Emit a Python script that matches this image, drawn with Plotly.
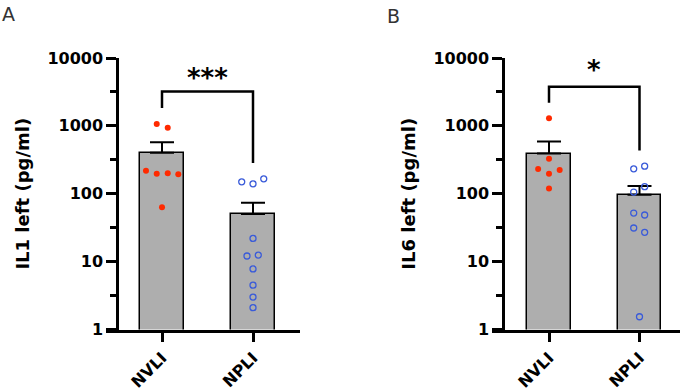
import math
import plotly.graph_objects as go

# ---------------- data ----------------
groups = ["NVLI", "NPLI"]

il1_mean = [402, 50.5]
il1_sem = [171, 23]
il1_nvli = [1067, 940, 218, 197, 200, 193, 63]
il1_nvli_off = [-0.058, 0.063, -0.176, -0.058, 0.063, 0.179, 0.0]
il1_npli = [150, 140, 166, 22, 12.1, 12.5, 7.8, 4.5, 3.0, 2.1]
il1_npli_off = [-0.124, 0.0, 0.118, 0.0, -0.066, 0.058, 0.0, 0.0, 0.0, 0.0]
il1_bracket = [1840, 3200, 3200, 283]
il1_sig = "***"
il1_sig_y = 5000

il6_mean = [391, 96.7]
il6_sem = [197, 33]
il6_nvli = [1297, 327, 231, 223, 197, 120]
il6_nvli_off = [0.0, 0.0, -0.12, 0.118, 0.0, 0.0]
il6_npli = [233, 255, 106, 127, 52, 48.6, 31.3, 27, 1.54]
il6_npli_off = [-0.064, 0.057, -0.064, 0.057, -0.064, 0.057, -0.064, 0.057, 0.0]
il6_bracket = [2200, 3785, 3785, 433]
il6_sig = "*"
il6_sig_y = 6600

y_ticks = [1, 10, 100, 1000, 10000]
y_ticktext = ["1", "10", "100", "1000", "10000"]
y_minor = [10 ** 0.5, 10 ** 1.5, 10 ** 2.5, 10 ** 3.5]

# ---------------- layout helpers ----------------
W, H = 685, 391
RED = "#FF2A00"
BLUE = "#3A5BD9"
GRAY = "#AEAEAE"
FONT = "DejaVu Sans"


def px(v):
    return v / W


def py(v):
    return 1 - v / H


fig = go.Figure()

panels = [
    dict(xa="x", ya="y", mean=il1_mean, sem=il1_sem, a=il1_nvli, ao=il1_nvli_off,
         b=il1_npli, bo=il1_npli_off, br=il1_bracket, sig=il1_sig, sigy=il1_sig_y),
    dict(xa="x2", ya="y2", mean=il6_mean, sem=il6_sem, a=il6_nvli, ao=il6_nvli_off,
         b=il6_npli, bo=il6_npli_off, br=il6_bracket, sig=il6_sig, sigy=il6_sig_y),
]

for p in panels:
    fig.add_trace(go.Bar(
        x=[0, 1], y=p["mean"], width=0.48, xaxis=p["xa"], yaxis=p["ya"],
        marker=dict(color=GRAY, line=dict(color="black", width=1.5)),
        error_y=dict(type="data", array=p["sem"], arrayminus=[0, 0], symmetric=False,
                     color="black", thickness=2, width=12),
        showlegend=False, hoverinfo="skip"))
    fig.add_trace(go.Scatter(
        x=[0 + o for o in p["ao"]], y=p["a"], mode="markers", xaxis=p["xa"], yaxis=p["ya"],
        marker=dict(color=RED, size=6, line=dict(width=0)), showlegend=False))
    fig.add_trace(go.Scatter(
        x=[1 + o for o in p["bo"]], y=p["b"], mode="markers", xaxis=p["xa"], yaxis=p["ya"],
        marker=dict(color=BLUE, size=6, symbol="circle-open", line=dict(width=1.3, color=BLUE)),
        showlegend=False))
    fig.add_trace(go.Scatter(
        x=[0, 0, 1, 1], y=p["br"], mode="lines", xaxis=p["xa"], yaxis=p["ya"],
        line=dict(color="black", width=2.5), showlegend=False, hoverinfo="skip"))
    fig.add_annotation(x=0.5, y=math.log10(p["sigy"]), xref=p["xa"], yref=p["ya"],
                       text="<b>%s</b>" % p["sig"], showarrow=False,
                       font=dict(family=FONT, size=26, color="black"))

ydom = [py(329.5), py(58)]

common_x = dict(tickmode="array", tickvals=[0, 1], ticktext=groups, tickangle=-45,
                showline=True, linecolor="black", linewidth=2.5, ticks="outside",
                ticklen=10, tickwidth=2.5, tickcolor="black", showgrid=False, zeroline=False,
                automargin=False,
                tickfont=dict(family=FONT, size=16, color="black", weight="bold"))
common_y = dict(type="log", range=[0, 4], domain=ydom, tickmode="array", tickvals=y_ticks,
                ticktext=y_ticktext, showline=True, linecolor="black", linewidth=2.5,
                ticks="outside", ticklen=10, tickwidth=2.5, tickcolor="black",
                showgrid=False, zeroline=False, automargin=False,
                minor=dict(tickvals=y_minor, ticks="outside", ticklen=6, tickwidth=2.5,
                           tickcolor="black", showgrid=False),
                tickfont=dict(family=FONT, size=16, color="black", weight="bold"),
                title_standoff=12)

# panel A: x axis 106..300, categories at 162 / 253
fig.update_layout(
    xaxis=dict(domain=[px(106), px(300)], range=[(106 - 162) / 91, (300 - 162) / 91],
               anchor="y", **common_x),
    yaxis=dict(anchor="free", position=px(117),
               title=dict(text="<b>IL1 left (pg/ml)</b>",
                          font=dict(family=FONT, size=18, color="black")),
               **common_y),
    xaxis2=dict(domain=[px(492), px(680)], range=[(492 - 549) / 90.5, (680 - 549) / 90.5],
                anchor="y2", **common_x),
    yaxis2=dict(anchor="free", position=px(503),
                title=dict(text="<b>IL6 left (pg/ml)</b>",
                           font=dict(family=FONT, size=18, color="black")),
                **common_y),
)

fig.add_annotation(x=px(0), y=py(1), xref="paper", yref="paper", text="A", showarrow=False,
                   xanchor="left", yanchor="top", font=dict(family=FONT, size=19, color="#333"))
fig.add_annotation(x=px(385), y=py(3), xref="paper", yref="paper", text="B", showarrow=False,
                   xanchor="left", yanchor="top", font=dict(family=FONT, size=19, color="#333"))

fig.update_layout(width=W, height=H, margin=dict(l=0, r=0, t=0, b=0),
                  paper_bgcolor="white", plot_bgcolor="white", bargap=0)

fig.write_html("out.html", config={"displayModeBar": False},
               post_script="document.body.style.margin='0';document.body.style.overflow='hidden';")
